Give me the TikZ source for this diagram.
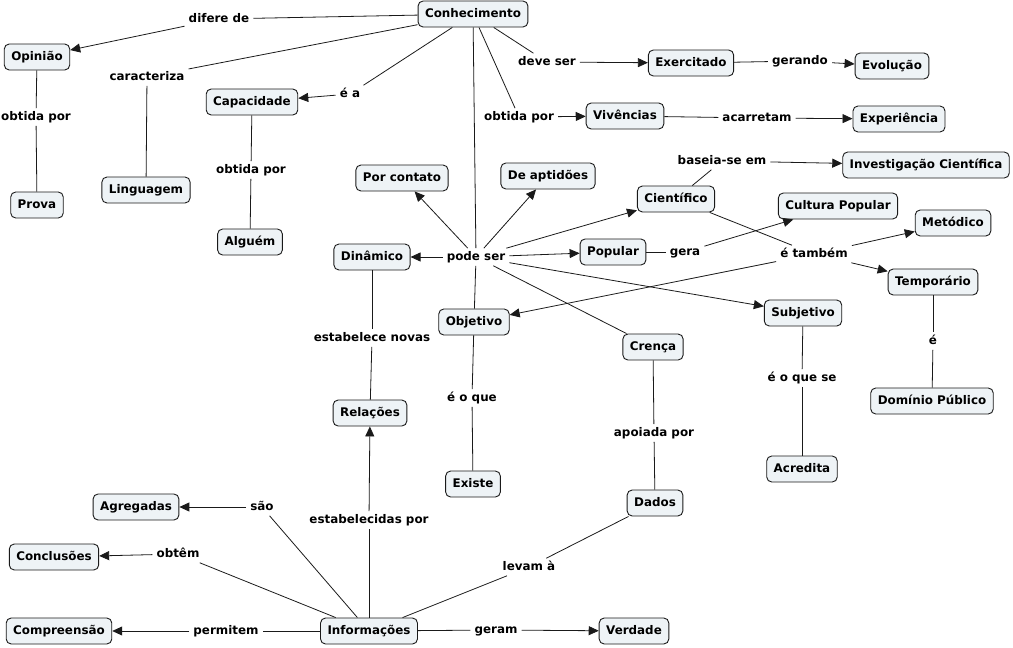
\documentclass[tikz,border=0pt]{standalone}
\usepackage{fontspec}
\setmainfont{DejaVu Sans}
\usetikzlibrary{arrows.meta}
\definecolor{cfill}{HTML}{EEF3F6}
\definecolor{cline}{HTML}{1A1A1A}
\tikzset{
  concept/.style={draw=cline, line width=0.9pt, fill=cfill, rounded corners=5pt,
    font=\fontsize{11.9}{13}\selectfont\bfseries, inner xsep=7pt, minimum height=26pt, text height=8.8pt, text depth=2.4pt},
  lp/.style={font=\fontsize{11.9}{13}\selectfont\bfseries, inner xsep=4pt, inner ysep=3pt, text height=8.8pt, text depth=2.4pt},
  con/.style={draw=cline, line width=0.8pt},
  arr/.style={con, -{Triangle[length=10pt,width=9pt]}}
}
\begin{document}
\begin{tikzpicture}[x=1pt,y=-1pt]
\useasboundingbox (0,0) rectangle (1013,648);
% concepts
\node[concept] (con) at (473,14) {Conhecimento};
\node[concept] (opi) at (37,57) {Opinião};
\node[concept] (cap) at (252,102) {Capacidade};
\node[concept] (exe) at (691,63) {Exercitado};
\node[concept] (evo) at (892,66) {Evolução};
\node[concept] (viv) at (625,116) {Vivências};
\node[concept] (expe) at (899,119) {Experiência};
\node[concept] (inv) at (926,165) {Investigação Científica};
\node[concept] (por) at (402,178) {Por contato};
\node[concept] (apt) at (548,176) {De aptidões};
\node[concept] (cie) at (676,199) {Científico};
\node[concept] (cul) at (838,206) {Cultura Popular};
\node[concept] (met) at (953,223) {Metódico};
\node[concept] (lin) at (146,190) {Linguagem};
\node[concept] (pro) at (37,205) {Prova};
\node[concept] (alg) at (250,242) {Alguém};
\node[concept] (din) at (372,257) {Dinâmico};
\node[concept] (pop) at (613,252) {Popular};
\node[concept] (tem) at (933,282) {Temporário};
\node[concept] (obj) at (474,322) {Objetivo};
\node[concept] (sub) at (803,313) {Subjetivo};
\node[concept] (cre) at (653,347) {Crença};
\node[concept] (rel) at (370,413) {Relações};
\node[concept] (dom) at (932,401) {Domínio Público};
\node[concept] (acr) at (802,469) {Acredita};
\node[concept] (exi) at (473,484) {Existe};
\node[concept] (dad) at (655,503) {Dados};
\node[concept] (agr) at (136,507) {Agregadas};
\node[concept] (conc) at (54,557) {Conclusões};
\node[concept] (com) at (59,631) {Compreensão};
\node[concept] (inf) at (369,631) {Informações};
\node[concept] (ver) at (634,631) {Verdade};
% linking phrases
\node[lp] (l1) at (219,19) {difere de};
\node[lp] (l2) at (147,77) {caracteriza};
\node[lp] (l3) at (350,94) {é a};
\node[lp] (l4) at (547,62) {deve ser};
\node[lp] (l5) at (800,61) {gerando};
\node[lp] (l6) at (519,117) {obtida por};
\node[lp] (l7) at (757,118) {acarretam};
\node[lp] (l8) at (722,161) {baseia-se em};
\node[lp] (l9) at (36,117) {obtida por};
\node[lp] (l10) at (251,170) {obtida por};
\node[lp] (l11) at (476,257) {pode ser};
\node[lp] (l12) at (685,252) {gera};
\node[lp] (l13) at (814,254) {é também};
\node[lp] (l14) at (372,338) {estabelece novas};
\node[lp] (l15) at (472,398) {é o que};
\node[lp] (l16) at (802,378) {é o que se};
\node[lp] (l17) at (933,341) {é};
\node[lp] (l18) at (654,433) {apoiada por};
\node[lp] (l19) at (262,507) {são};
\node[lp] (l20) at (369,520) {estabelecidas por};
\node[lp] (l21) at (178,554) {obtêm};
\node[lp] (l22) at (529,567) {levam à};
\node[lp] (l23) at (226,631) {permitem};
\node[lp] (l24) at (496,630) {geram};
% connections
\draw[con] (con) -- (l1); \draw[arr] (l1) -- (opi);
\draw[con] (con) -- (l2); \draw[con] (l2) -- (lin);
\draw[con] (con) -- (l3); \draw[arr] (l3) -- (cap);
\draw[con] (con) -- (l4); \draw[arr] (l4) -- (exe);
\draw[con] (exe) -- (l5); \draw[arr] (l5) -- (evo);
\draw[con] (con) -- (l6); \draw[arr] (l6) -- (viv);
\draw[con] (viv) -- (l7); \draw[arr] (l7) -- (expe);
\draw[con] (cie) -- (l8); \draw[arr] (l8) -- (inv);
\draw[con] (opi) -- (l9); \draw[con] (l9) -- (pro);
\draw[con] (cap) -- (l10); \draw[con] (l10) -- (alg);
\draw[con] (con) -- (l11);
\draw[arr] (l11) -- (por);
\draw[arr] (l11) -- (apt);
\draw[arr] (l11) -- (cie);
\draw[arr] (l11) -- (din);
\draw[arr] (l11) -- (pop);
\draw[arr] (l11) -- (sub);
\draw[con] (l11) -- (obj);
\draw[con] (l11) -- (cre);
\draw[con] (pop) -- (l12); \draw[arr] (l12) -- (cul);
\draw[con] (cie) -- (l13);
\draw[arr] (l13) -- (met);
\draw[arr] (l13) -- (tem);
\draw[arr] (l13) -- (obj);
\draw[con] (din) -- (l14); \draw[con] (l14) -- (rel);
\draw[con] (obj) -- (l15); \draw[con] (l15) -- (exi);
\draw[con] (sub) -- (l16); \draw[con] (l16) -- (acr);
\draw[con] (tem) -- (l17); \draw[con] (l17) -- (dom);
\draw[con] (cre) -- (l18); \draw[con] (l18) -- (dad);
\draw[con] (inf) -- (l19); \draw[arr] (l19) -- (agr);
\draw[con] (inf) -- (l20); \draw[arr] (l20) -- (rel);
\draw[con] (inf) -- (l21); \draw[arr] (l21) -- (conc);
\draw[con] (inf) -- (l22); \draw[con] (l22) -- (dad);
\draw[con] (inf) -- (l23); \draw[arr] (l23) -- (com);
\draw[con] (inf) -- (l24); \draw[arr] (l24) -- (ver);
\end{tikzpicture}
\end{document}
